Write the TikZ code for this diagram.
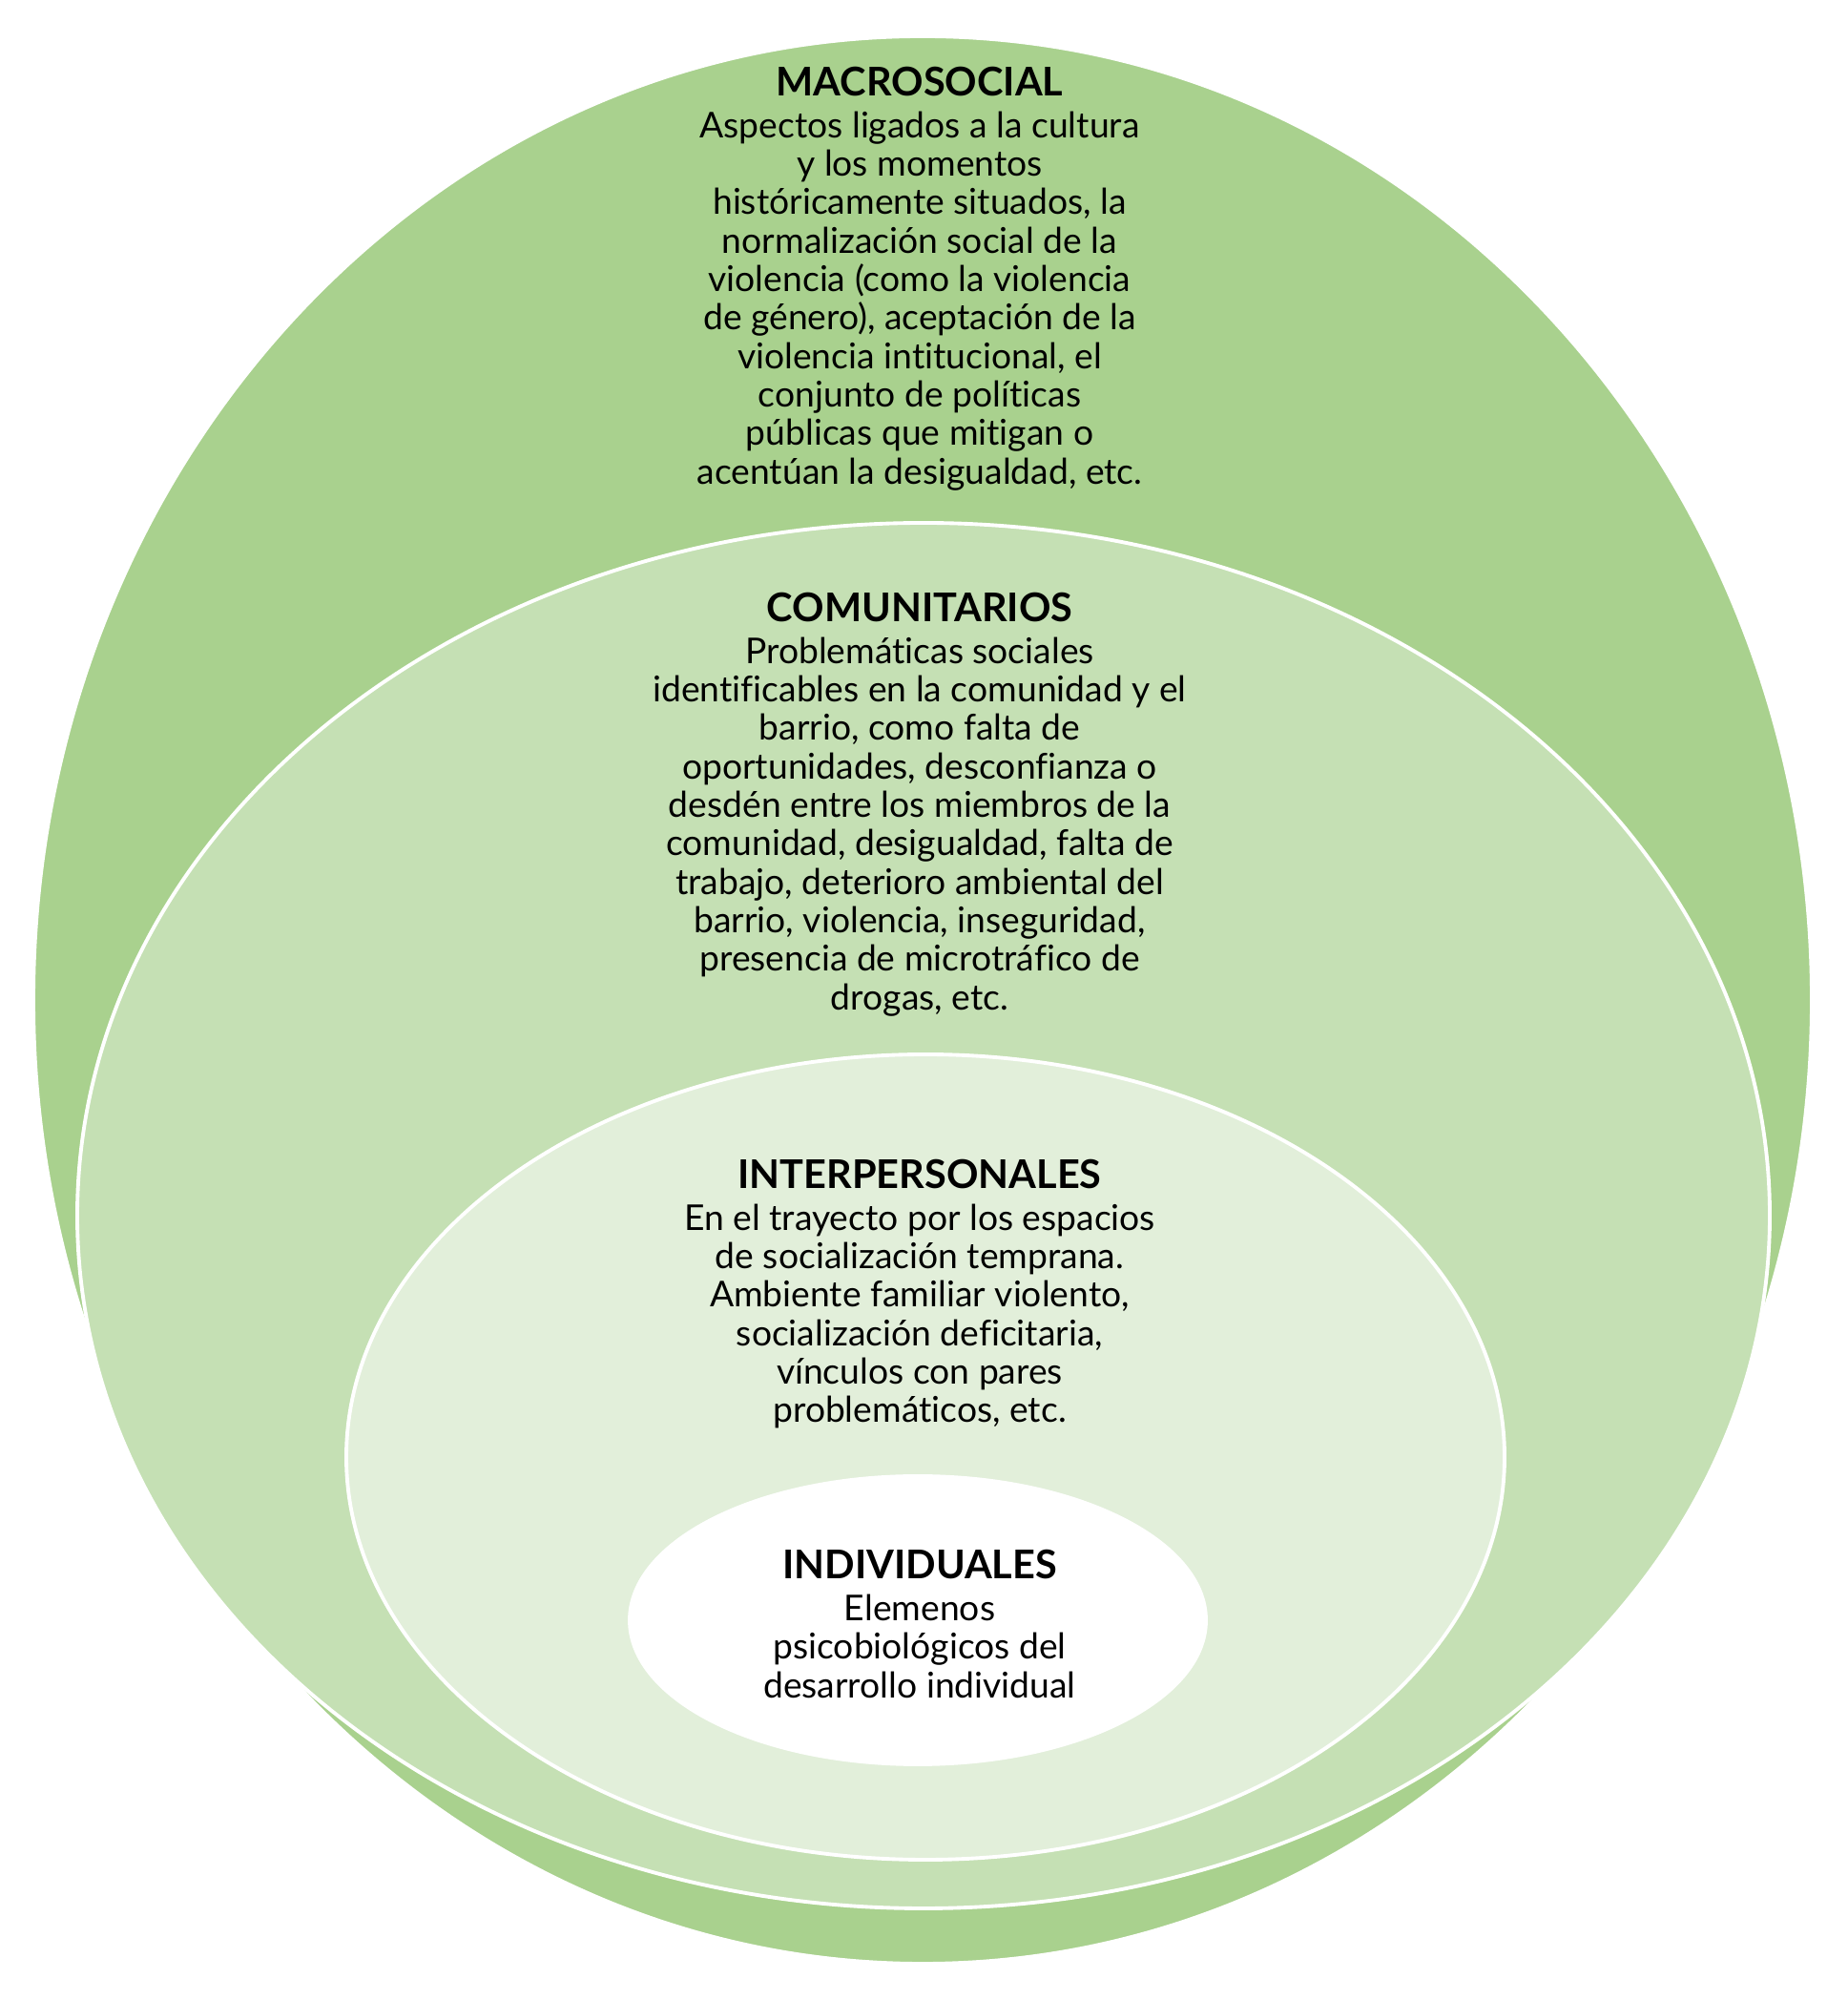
\documentclass[tikz,border=0pt]{standalone}
\usepackage{fontspec}
\setmainfont{Lato}[Ligatures=NoCommon]
\definecolor{verdemacro}{HTML}{A9D18E}
\definecolor{verdecomun}{HTML}{C5E0B4}
\definecolor{verdeinter}{HTML}{E2EFDA}
\newcommand{\capatitulo}[1]{{\fontsize{11.8}{13}\selectfont\bfseries #1}}
\tikzset{
	capa/.style={draw=white, line width=1.1pt},
	texto/.style={align=center, inner sep=0pt, font=\fontsize{10.6}{11.47}\selectfont}
}

\begin{document}
\begin{tikzpicture}
	\useasboundingbox (0,0) rectangle (19.36,20.96);
	% capas, de fuera hacia dentro
	\filldraw[capa, fill=verdemacro] (9.67,10.48) ellipse [x radius=9.32cm, y radius=10.10cm];
	\filldraw[capa, fill=verdecomun] (9.68,8.22) ellipse [x radius=8.87cm, y radius=7.26cm];
	\filldraw[capa, fill=verdeinter] (9.70,5.69) ellipse [x radius=6.07cm, y radius=4.22cm];
	\filldraw[capa, fill=white] (9.62,3.98) ellipse [x radius=3.02cm, y radius=1.51cm];

	\node[texto] (macrosocial) at (9.64,18.04) {\capatitulo{MACROSOCIAL}\\[1pt]
		Aspectos ligados a la cultura\\ y los momentos\\ históricamente situados, la\\
		normalización social de la\\ violencia (como la violencia\\ de género), aceptación de la\\
		violencia intitucional, el\\ conjunto de políticas\\ públicas que mitigan o\\
		acentúan la desigualdad, etc.};
	\node[texto] (comunitarios) at (9.64,12.53) {\capatitulo{COMUNITARIOS}\\[1pt]
		Problemáticas sociales\\ identificables en la comunidad y el\\ barrio, como falta de\\
		oportunidades, desconfianza o\\ desdén entre los miembros de la\\
		comunidad, desigualdad, falta de\\ trabajo, deterioro ambiental del\\
		barrio, violencia, inseguridad,\\ presencia de microtráfico de\\ drogas, etc.};
	\node[texto] (interpersonales) at (9.64,7.40) {\capatitulo{INTERPERSONALES}\\[1pt]
		En el trayecto por los espacios\\ de socialización temprana.\\
		Ambiente familiar violento,\\ socialización deficitaria,\\
		vínculos con pares\\ problemáticos, etc.};
	\node[texto] (individuales) at (9.64,3.94) {\capatitulo{INDIVIDUALES}\\[1pt]
		Elemenos\\ psicobiológicos del\\ desarrollo individual};
\end{tikzpicture}
\end{document}
